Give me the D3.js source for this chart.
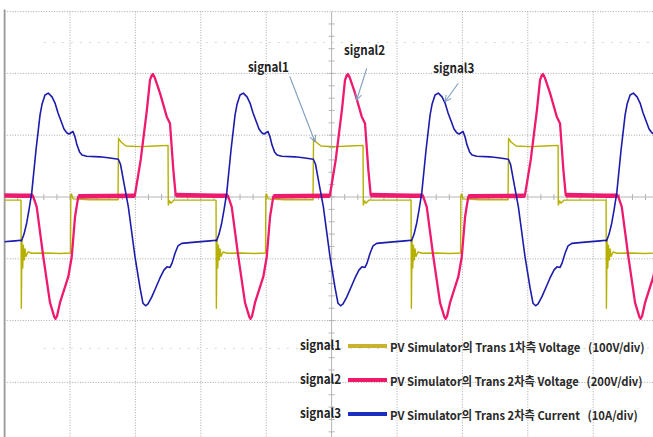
<!DOCTYPE html>
<html>
<head>
<meta charset="utf-8">
<script src="https://cdn.jsdelivr.net/npm/d3@7"></script>
<style>
  body { margin: 0; background: #fff; }
  svg { display: block; }
</style>
</head>
<body>
<script>
var w = 653, h = 437;

// --- Data (time and amplitude in scope divisions) ---
// one switching cycle of each trace, time measured from the cycle start
var cycleStart = 0.251;
var period = 2.982;
var cycles = [-1, 0, 1, 2, 3];

// signal1: Trans primary voltage (100V/div)
var signal1 = [
    [0, -0.05], [0.005, -1.80], [0.015, -0.70], [0.026, -1.15], [0.036, -0.78],
    [0.049, -1.02], [0.061, -0.84], [0.076, -0.96], [0.107, -0.89], [0.168, -0.91],
    [0.367, -0.905], [0.596, -0.915], [0.757, -0.905], [0.761, 0.02], [0.772, 0.05],
    [0.795, -0.03], [1.055, -0.045], [1.483, -0.045], [1.491, 0.95], [1.529, 0.89],
    [1.605, 0.825], [1.819, 0.815], [2.049, 0.825], [2.248, 0.835], [2.252, -0.13],
    [2.271, -0.065], [2.294, -0.10], [2.339, -0.05], [2.584, -0.05], [2.982, -0.05]
];

// signal2: Trans secondary voltage (200V/div)
var signal2 = [
    [0, 0.02], [0.183, 0.02], [0.240, -0.16], [0.341, -0.97], [0.443, -1.71],
    [0.509, -1.94], [0.528, -1.97], [0.550, -1.93], [0.596, -1.71], [0.723, -1.29],
    [0.775, -0.97], [0.826, -0.32], [0.876, 0.01], [1.740, 0.02], [1.830, 0.60],
    [1.925, 1.41], [1.972, 1.89], [1.998, 1.97], [2.018, 1.99], [2.049, 1.92],
    [2.125, 1.68], [2.228, 1.30], [2.278, 1.19], [2.329, 0.44], [2.365, 0.03],
    [2.982, 0.02]
];

// signal3: Trans secondary current (10A/div)
var signal3 = [
    [0, -0.71], [0.011, -0.70], [0.046, -0.60], [0.087, -0.42], [0.122, -0.21],
    [0.164, 0.07], [0.229, 0.76], [0.291, 1.33], [0.321, 1.50], [0.367, 1.65],
    [0.417, 1.68], [0.474, 1.62], [0.520, 1.52], [0.566, 1.36], [0.622, 1.20],
    [0.657, 1.10], [0.699, 1.04], [0.734, 1.02], [0.765, 1.04], [0.795, 1.06],
    [0.826, 0.97], [0.856, 0.84], [0.895, 0.73], [0.933, 0.68], [1.005, 0.66],
    [1.208, 0.65], [1.361, 0.63], [1.488, 0.61], [1.521, 0.53], [1.564, 0.28],
    [1.641, -0.16], [1.743, -0.97], [1.820, -1.47], [1.865, -1.72], [1.904, -1.76],
    [1.942, -1.73], [1.998, -1.62], [2.064, -1.46], [2.125, -1.31], [2.187, -1.18],
    [2.232, -1.13], [2.278, -1.14], [2.309, -1.07], [2.355, -0.91], [2.401, -0.79],
    [2.457, -0.75], [2.661, -0.73], [2.890, -0.71], [2.982, -0.70]
];

var seriesNames = ["signal1", "signal2", "signal3"];
var legendTexts = [
    "PV Simulator의 Trans 1차측 Voltage   (100V/div)",
    "PV Simulator의 Trans 2차측 Voltage   (200V/div)",
    "PV Simulator의 Trans 2차측 Current   (10A/div)"
];

// callout anchors: label position, arrow start, arrow tip
var calloutLabel = [[3.72, 2.03], [5.19, 2.30], [6.555, 2.00]];
var calloutFrom = [[4.36, 1.95], [5.537, 2.08], [6.937, 1.84]];
var calloutTo = [[4.746, 0.895], [5.384, 1.57], [6.734, 1.542]];

// --- Styles ---
var colors = ["#b6b000", "#ee1a6e", "#1c1cac"];
var swatchColors = ["#c9b22e", "#f01868", "#1a2fc0"];
var widths = [1.4, 2.3, 1.6];

// --- Scales ---
var x = d3.scaleLinear().domain([0, 10]).range([4.6, 658.6]);
var y = d3.scaleLinear().domain([-4, 3]).range([444.2, 11.6]);

var svg = d3.select("body").append("svg")
    .attr("width", w)
    .attr("height", h)
    .style("background", "#fff");

svg.append("defs").append("clipPath")
    .attr("id", "screen")
    .append("rect")
    .attr("x", x(0))
    .attr("y", y(3) - 2)
    .attr("width", x(10) - x(0))
    .attr("height", y(-4) - y(3) + 2);

svg.select("defs").append("marker")
    .attr("id", "arrow")
    .attr("viewBox", "0 0 10 10")
    .attr("refX", 9).attr("refY", 5)
    .attr("markerWidth", 7).attr("markerHeight", 7)
    .attr("orient", "auto")
    .append("path")
    .attr("d", "M1,1 L9,5 L1,9")
    .attr("fill", "none")
    .attr("stroke", "#7f9cc0")
    .attr("stroke-width", 1.3);

// --- Grid ---
var grid = svg.append("g").attr("class", "grid");

grid.selectAll(".vline")
    .data(x.ticks(10).filter(d => d > 0 && d !== 5))
    .enter().append("line")
    .attr("x1", d => x(d)).attr("x2", d => x(d))
    .attr("y1", y(3)).attr("y2", h)
    .attr("stroke", "#a8a8a8")
    .attr("stroke-dasharray", "1,1.6");

grid.selectAll(".hline")
    .data(y.ticks(7).filter(d => d !== 0 && d > -4))
    .enter().append("line")
    .attr("x1", x(0)).attr("x2", w)
    .attr("y1", d => y(d)).attr("y2", d => y(d))
    .attr("stroke", "#a8a8a8")
    .attr("stroke-dasharray", "1,1.6");

// faint half-division rows
grid.selectAll(".faint")
    .data([2.5, -2.45])
    .enter().append("line")
    .attr("x1", x(0.6)).attr("x2", w)
    .attr("y1", d => y(d)).attr("y2", d => y(d))
    .attr("stroke", "#d8d8d8")
    .attr("stroke-dasharray", "2,7");

// center axes with minor ticks
grid.append("line")
    .attr("x1", x(0)).attr("x2", w)
    .attr("y1", y(0)).attr("y2", y(0))
    .attr("stroke", "#b4b4b4");
grid.append("line")
    .attr("x1", x(5)).attr("x2", x(5))
    .attr("y1", y(3)).attr("y2", h)
    .attr("stroke", "#b4b4b4");

grid.selectAll(".xminor")
    .data(d3.range(0.2, 10, 0.2))
    .enter().append("line")
    .attr("x1", d => x(d)).attr("x2", d => x(d))
    .attr("y1", y(0) - 3).attr("y2", y(0) + 3)
    .attr("stroke", "#b4b4b4");

grid.selectAll(".yminor")
    .data(d3.range(-4, 3, 0.2))
    .enter().append("line")
    .attr("x1", x(5) - 3).attr("x2", x(5) + 3)
    .attr("y1", d => y(d)).attr("y2", d => y(d))
    .attr("stroke", "#b4b4b4");

// left screen border
grid.append("line")
    .attr("x1", x(0)).attr("x2", x(0))
    .attr("y1", y(3) - 2).attr("y2", h)
    .attr("stroke", "#9a9a9a")
    .attr("stroke-width", 1.8);

// --- Traces ---
function unroll(cycle) {
    var pts = [];
    cycles.forEach(function(k) {
        cycle.forEach(function(p) {
            pts.push([cycleStart + k * period + p[0], p[1]]);
        });
    });
    return pts;
}

var line = d3.line()
    .x(d => x(d[0]))
    .y(d => y(d[1]));

var traces = svg.append("g").attr("clip-path", "url(#screen)");

[signal1, signal2, signal3].forEach(function(s, i) {
    var pts = unroll(s);
    traces.append("path")
        .datum(pts)
        .attr("class", seriesNames[i])
        .attr("d", line)
        .attr("fill", "none")
        .attr("stroke", colors[i])
        .attr("stroke-width", widths[i])
        .attr("stroke-linejoin", "round");

    // the secondary voltage is noisy while idle, so its zero band reads thicker
    if (i === 1) {
        traces.append("path")
            .datum(pts)
            .attr("d", d3.line()
                .defined(d => Math.abs(d[1]) < 0.05)
                .x(d => x(d[0]))
                .y(d => y(d[1])))
            .attr("fill", "none")
            .attr("stroke", colors[i])
            .attr("stroke-width", 4.6);
    }
});

// --- Callouts ---
var callouts = svg.append("g").attr("class", "callouts");

callouts.selectAll("line")
    .data(seriesNames)
    .enter().append("line")
    .attr("x1", (d, i) => x(calloutFrom[i][0]))
    .attr("y1", (d, i) => y(calloutFrom[i][1]))
    .attr("x2", (d, i) => x(calloutTo[i][0]))
    .attr("y2", (d, i) => y(calloutTo[i][1]))
    .attr("stroke", "#7f9cc0")
    .attr("stroke-width", 1.1)
    .attr("marker-end", "url(#arrow)");

callouts.selectAll("text")
    .data(seriesNames)
    .enter().append("text")
    .attr("x", (d, i) => x(calloutLabel[i][0]))
    .attr("y", (d, i) => y(calloutLabel[i][1]))
    .attr("textLength", 41)
    .attr("lengthAdjust", "spacingAndGlyphs")
    .style("font-family", "'Noto Sans CJK KR', 'Noto Sans', sans-serif")
    .style("font-size", "13px")
    .style("font-weight", "bold")
    .style("fill", "#222")
    .text(d => d);

// --- Legend ---
var legendX = 300, legendY = 350, legendStep = 34;
var legendWidths = [255, 253, 248];

var legend = svg.append("g").attr("class", "legend")
    .style("font-family", "'Noto Sans CJK KR', 'Noto Sans', sans-serif");

var rows = legend.selectAll("g")
    .data(seriesNames)
    .enter().append("g")
    .attr("transform", (d, i) => "translate(" + legendX + "," + (legendY + i * legendStep) + ")");

rows.append("text")
    .attr("textLength", 41)
    .attr("lengthAdjust", "spacingAndGlyphs")
    .style("font-size", "13px")
    .style("font-weight", "bold")
    .style("fill", "#222")
    .text(d => d);

rows.append("line")
    .attr("x1", 48).attr("x2", 87)
    .attr("y1", -4).attr("y2", -4)
    .attr("stroke", (d, i) => swatchColors[i])
    .attr("stroke-width", 4);

// description text is squeezed horizontally to the width it has in the scope capture
rows.append("g")
    .attr("class", "desc")
    .append("text")
    .style("font-size", "12px")
    .style("font-weight", "bold")
    .style("white-space", "pre")
    .style("fill", "#2a2a2a")
    .text((d, i) => legendTexts[i]);

rows.select(".desc").attr("transform", function(d, i) {
    var natural = this.querySelector("text").getComputedTextLength();
    var sx = Math.min(1, legendWidths[i] / natural);
    return "translate(90,2) scale(" + sx + ",1)";
});
</script>
</body>
</html>
